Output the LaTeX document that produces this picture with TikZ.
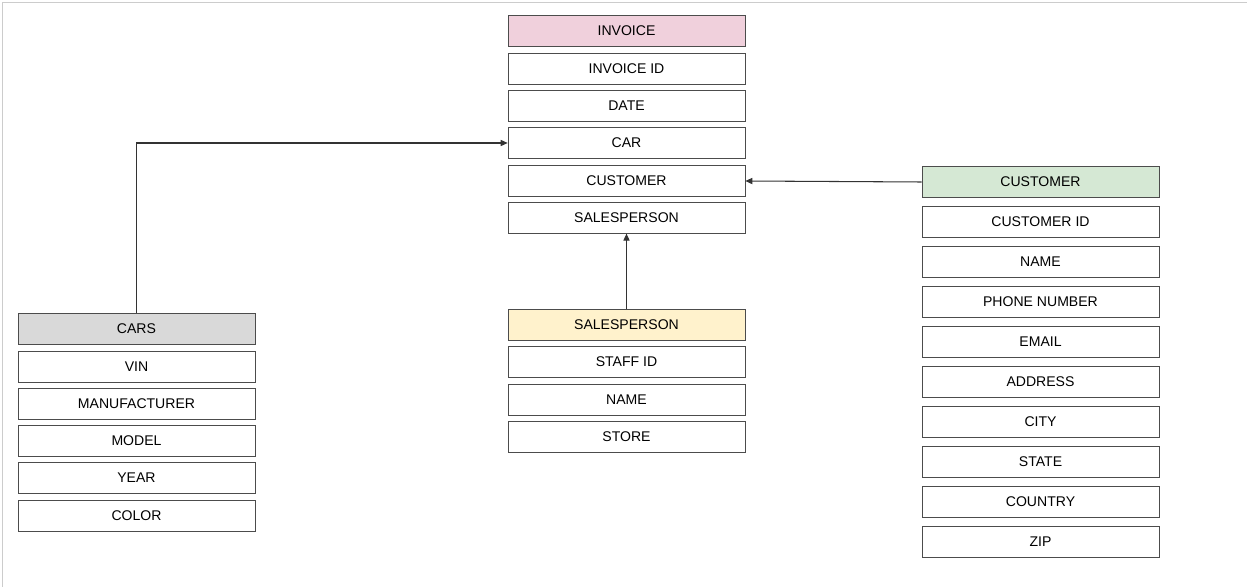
\documentclass[tikz,border=0pt]{standalone}
\usepackage{fontspec}
\setmainfont{Liberation Sans}
\usepackage{xcolor}
\usetikzlibrary{arrows.meta, positioning}

\definecolor{invpink}{HTML}{F0D0DC}
\definecolor{custgreen}{HTML}{D5E8D4}
\definecolor{salesyellow}{HTML}{FFF2CC}
\definecolor{carsgray}{HTML}{D9D9D9}

\tikzset{
  field/.style={draw=black!70, fill=white, minimum width=4.74cm, minimum height=0.61cm,
    inner sep=0pt, font=\fontsize{8}{9.6}\selectfont},
  header/.style={field, fill=#1},
  link/.style={-{Triangle[length=4pt, width=3.5pt]}, black!80, semithick}
}

\begin{document}
\begin{tikzpicture}[x=0.02cm, y=-0.02cm]
      \useasboundingbox (0,0) rectangle (1247,587);
      \draw[black!20] (2,587) -- (2,2) -- (1247,2);

      % Invoice
      \node[header=invpink] (inv) at (626.5,31) {INVOICE};
      \node[field] (invid) at (626.5,69) {INVOICE ID};
      \node[field] (invdate) at (626.5,106) {DATE};
      \node[field] (invcar) at (626.5,143) {CAR};
      \node[field] (invcust) at (626.5,181) {CUSTOMER};
      \node[field] (invsales) at (626.5,218) {SALESPERSON};

      % Cars
      \node[header=carsgray] (cars) at (136.5,329) {CARS};
      \node[field] (vin) at (136.5,367) {VIN};
      \node[field] (manuf) at (136.5,404) {MANUFACTURER};
      \node[field] (model) at (136.5,441) {MODEL};
      \node[field] (year) at (136.5,478) {YEAR};
      \node[field] (color) at (136.5,516) {COLOR};

      % Salesperson
      \node[header=salesyellow] (sales) at (626.5,325) {SALESPERSON};
      \node[field] (staffid) at (626.5,362) {STAFF ID};
      \node[field] (sname) at (626.5,400) {NAME};
      \node[field] (store) at (626.5,437) {STORE};

      % Customer
      \node[header=custgreen] (cust) at (1040.5,182) {CUSTOMER};
      \node[field] (custid) at (1040.5,222) {CUSTOMER ID};
      \node[field] (cname) at (1040.5,262) {NAME};
      \node[field] (phone) at (1040.5,302) {PHONE NUMBER};
      \node[field] (email) at (1040.5,342) {EMAIL};
      \node[field] (address) at (1040.5,382) {ADDRESS};
      \node[field] (city) at (1040.5,422) {CITY};
      \node[field] (state) at (1040.5,462) {STATE};
      \node[field] (country) at (1040.5,502) {COUNTRY};
      \node[field] (zip) at (1040.5,542) {ZIP};

      % Links
      \draw[link] (cars.north) |- (invcar.west);
      \draw[link] (cust.west) -- (invcust.east);
      \draw[link] (sales.north) -- (invsales.south);
    \end{tikzpicture}
\end{document}
